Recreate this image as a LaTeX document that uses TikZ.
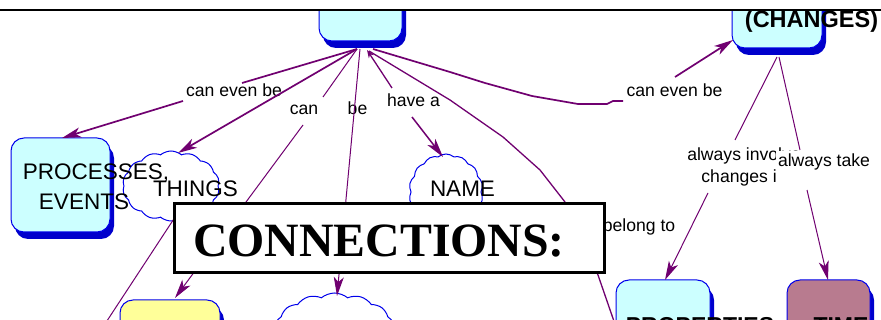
\documentclass[tikz,border=0pt]{standalone}
\usepackage{fontspec}
\setmainfont{Liberation Sans}
\newfontfamily\titlefont{Liberation Serif}
\usetikzlibrary{shapes.symbols,shadows,arrows.meta}
\definecolor{boxfill}{RGB}{204,255,255}
\definecolor{boxline}{RGB}{0,0,235}
\definecolor{boxshade}{RGB}{0,0,204}
\definecolor{linkcol}{RGB}{112,0,112}
\definecolor{notefill}{RGB}{255,255,153}
\definecolor{timefill}{RGB}{184,123,143}
\definecolor{cloudline}{RGB}{0,0,235}

\begin{document}
\begin{tikzpicture}[x=1pt,y=-1pt,
  concept/.style={draw=boxline, line width=1pt, fill=boxfill, rounded corners=13pt, inner sep=0pt,
    drop shadow={shadow xshift=4pt, shadow yshift=-7pt, fill=boxshade, opacity=1}},
  idea/.style={cloud, cloud puffs=14, cloud puff arc=80, draw=cloudline, line width=1pt,
    fill=white, inner sep=0pt},
  nodetext/.style={font=\fontsize{22.5}{30}\selectfont, inner sep=0pt},
  boldtext/.style={font=\fontsize{23}{28}\selectfont\bfseries, inner sep=0pt},
  linktext/.style={font=\fontsize{17.6}{22}\selectfont, inner sep=0pt},
  link/.style={draw=linkcol, line width=1.7pt},
  thinlink/.style={draw=linkcol, line width=1pt},
  arrowend/.style={-{Stealth[length=19pt,width=10pt,inset=5pt]}},
  smallarrow/.style={-{Stealth[length=8pt,width=6pt]}},
]
\useasboundingbox (0,0) rectangle (881,320);
\fill[white] (0,0) rectangle (881,320);

\begin{scope}
\clip (0,10) rectangle (881,320);

% concepts
\node[concept, minimum width=83pt, minimum height=81pt] (top) at (360.5,0.5) {};
\node[concept, minimum width=90pt, minimum height=88pt] (chg) at (777,4) {};
\node[boldtext, font=\fontsize{23.5}{28}\selectfont\bfseries, anchor=base] (chg-t) at (811.5,28) {(CHANGES)};

\node[idea, minimum width=97pt, minimum height=70pt] (things) at (171,186) {};
\node[nodetext, anchor=base] (things-t) at (195.5,197) {THINGS};

\node[concept, minimum width=99pt, minimum height=94pt] (proc) at (60.5,185) {};
\node[nodetext, align=center, anchor=north] (proc-t) at (96,163.6)
  {PROCESSES,\\EVENTS\rule{24pt}{0pt}};

\node[idea, minimum width=74pt, minimum height=76pt] (name) at (446,192) {};
\node[nodetext, anchor=base] (name-t) at (462.5,197) {NAME};

\node[concept, fill=notefill, minimum width=100pt, minimum height=80pt] (note) at (170,340) {};
\node[idea, minimum width=121pt, minimum height=78pt] (low) at (334.5,332) {};

\node[concept, minimum width=94pt, minimum height=80pt] (prop) at (663,320) {};
\node[concept, fill=timefill, minimum width=83pt, minimum height=80pt] (time) at (828.5,320) {};
\node[boldtext, anchor=base] (prop-t) at (700,333.5) {PROPERTIES};
\node[boldtext, anchor=base] (time-t) at (841,333.5) {TIME};

% linking phrases
\node[linktext, anchor=base] (l1) at (234,97) {can even be};
\node[linktext, anchor=base] (l2) at (304,115) {can};
\node[linktext, anchor=base] (l3) at (357.5,115) {be};
\node[linktext, anchor=base] (l4) at (413.5,107) {have a};
\node[linktext, anchor=base] (l5) at (674.5,96.5) {can even be};
\node[linktext, anchor=base] (l6) at (639,232) {belong to};
\node[linktext, align=center] (l7) at (744,166.5) {always involve\\changes in};
\node[linktext, anchor=base, fill=white, text height=16pt, text depth=21pt, inner xsep=2pt]
  (l8) at (824,167) {always take};

% connection points
\coordinate (top-a) at (357,49);
\coordinate (top-b) at (360,49);
\coordinate (top-c) at (367,50);
\coordinate (top-d) at (373,49);
\coordinate (top-e) at (369,51);
\coordinate (l1-in) at (242,83);
\coordinate (l1-out) at (183,101);
\coordinate (proc-in) at (62,138);
\coordinate (things-in) at (178,153);
\coordinate (l2-in) at (323,97);
\coordinate (l2-out) at (303,125);
\coordinate (note-in) at (175,298);
\coordinate (low-in) at (337,296);
\coordinate (l4-in) at (392,88);
\coordinate (l4-out) at (412,117);
\coordinate (name-in) at (443,157);
\coordinate (l5-in) at (623,101);
\coordinate (l5-out) at (675,77);
\coordinate (chg-in) at (733,40);
\coordinate (chg-a) at (777,57);
\coordinate (chg-b) at (779,57);
\coordinate (l7-in) at (735,140);
\coordinate (l7-out) at (708,193);
\coordinate (prop-in) at (665,280);
\coordinate (l8-in) at (800,150);
\coordinate (l8-out) at (807,190);
\coordinate (time-in) at (828,280);
\coordinate (hid) at (183,205);
\coordinate (off-a) at (101,330);
\coordinate (off-b) at (617,330);

% connectors
\draw[link] (top-a) -- (l1-in);
\draw[link, arrowend] (l1-out) -- (proc-in);
\draw[link, arrowend] (top-a) -- (things-in);
\draw[thinlink] (top-a) -- (l2-in);
\draw[thinlink, arrowend] (l2-out) -- (note-in);
\draw[thinlink, arrowend] (top-b) -- (low-in);
\draw[thinlink, line width=1.3pt, smallarrow] (l4-in) -- (top-c);
\draw[thinlink, line width=1.5pt, arrowend] (l4-out) -- (name-in);
\draw[link] (top-d) -- (450,72) -- (485,83) -- (532,96) -- (578,104) -- (607,104)
  -- (613,101) -- (l5-in);
\draw[link, arrowend] (l5-out) -- (chg-in);
\draw[thinlink, line width=1.3pt] (top-e) -- (450,100) -- (503,137) -- (540,170)
  -- (565,202) -- (598,275) -- (off-b);
\draw[thinlink] (chg-a) -- (l7-in);
\draw[thinlink, arrowend] (l7-out) -- (prop-in);
\draw[thinlink] (chg-b) -- (l8-in);
\draw[thinlink, arrowend] (l8-out) -- (time-in);
\draw[thinlink] (hid) -- (off-a);

% heading
\node[draw, line width=2.5pt, fill=white, minimum width=430.4pt, minimum height=69.4pt,
  inner sep=0pt] (head) at (389.5,238) {};
\node[font=\fontsize{47.8}{52}\selectfont\titlefont\bfseries, inner sep=0pt, anchor=base]
  (head-t) at (379,257) {CONNECTIONS:};
\end{scope}

\draw[line width=2.5pt] (0,10) -- (881,10);
\end{tikzpicture}
\end{document}
